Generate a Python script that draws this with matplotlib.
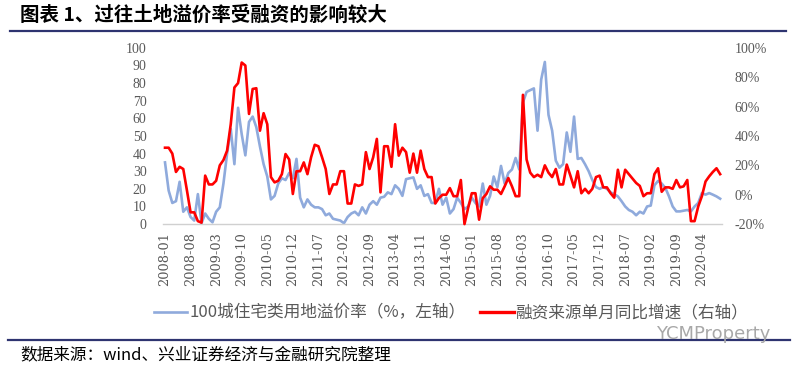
import matplotlib
matplotlib.use('Agg')
import matplotlib.pyplot as plt
from matplotlib.lines import Line2D

plt.rcParams['font.family'] = ['Noto Sans CJK SC', 'DejaVu Sans']

# monthly data, 2008-01 .. 2020-09
start_year = 2008
premium = [35, 19, 12, 13, 24, 7, 9.5, 4, 2, 17, 0.5, 6, 3, 1, 7, 9.5, 23, 40, 54, 34,
           66, 51, 39, 58, 61, 55, 44, 34, 27, 14, 16, 23, 26, 25, 29, 26, 37, 15, 9.5, 14,
           11, 9.5, 9.5, 8.5, 5, 6, 3, 2.5, 2, 0.5, 4, 6, 7, 5, 9.5, 6, 11, 13, 11, 15,
           15.5, 18, 17, 22, 20, 16, 25.5, 26, 26.5, 20, 22, 16, 17, 12, 12, 20, 11, 15, 6, 8.5,
           15, 12, 8.5, 10, 15, 12, 10, 23, 11, 16, 27, 21, 33, 23, 29, 31, 37.5, 31, 69, 75,
           76, 77, 53, 82, 92, 62, 53, 36, 32, 34, 52, 41, 61, 37, 37.5, 34, 30, 25, 21, 20,
           21, 20, 18, 17, 15.7, 13, 10, 8, 7, 5, 7, 6, 10, 10.5, 22, 24.5, 23, 20.5, 15.7, 10,
           7.2, 7.2, 7.6, 8, 7.2, 10, 12, 17.6, 16.7, 17.6, 16.7, 15.7, 14.4]
financing = [32, 32, 28, 15.5, 19, 17.5, 3, -12, -12, -18, -19, 13, 7, 7, 9.5, 20, 23.6, 30, 48, 73,
             76, 90, 88, 55, 72, 72.5, 43.6, 55.5, 48, 12, 8.4, 9.5, 14, 27.7, 24, 0.5, 16, 16, 22, 14,
             25.5, 34, 33, 25.5, 17.5, 0.5, 7, 7, 16, 16, -6, -6, 7, 6, 7, 29, 17.5, 25.5, 38, 1.6,
             33, 33, 19, 48, 26.6, 32, 29, 15, 28, 15, 30, 17.5, 12, 12, -6, -2.3, 0, 0, 4.5, -1,
             -1, 10, -20, -9, 1, 1, -17, -2.3, 0.5, 5.7, 3.4, 3.4, 0.5, 5.7, 11.4, 5.7, -1, -1, 68, 24,
             15, 12, 13.6, 12, 20, 15, 12, 17.5, 7, 7, 20.5, 13, 5, 16, 1, 4, 1, 4, 12, 13,
             5, 5, 1, -2, 17, 5, 17, 14, 11, 8, 6, -1, 1, 1, 14, 18, 2, 5, 5, 4,
             10, 5, 5.7, 10, -18, -18, -8, -1, 9, 12.5, 15.5, 18, 14]

labels = ['%d-%02d' % (start_year + i // 12, i % 12 + 1) for i in range(len(premium))]
x = list(range(len(premium)))

blue = '#8FAADC'
red = '#FF0000'
grey = '#595959'
navy = '#2E3470'

fig = plt.figure(figsize=(7.96, 3.71), dpi=100)
ax = fig.add_axes([0.205, 0.396, 0.702, 0.475])
ax2 = ax.twinx()

ax.plot(x, premium, color=blue, lw=1.9, clip_on=False)
ax2.plot(x, financing, color=red, lw=1.9, clip_on=False)

ax.set_xlim(-0.5, len(x) - 0.5)
ax.set_ylim(0, 100)
ax2.set_ylim(-20, 100)

ax.set_yticks(range(0, 101, 10))
ax.set_yticklabels([str(v) for v in range(0, 101, 10)], family='Liberation Serif', fontsize=10, color=grey)
ax2.set_yticks(range(-20, 101, 20))
ax2.set_yticklabels(['%d%%' % v for v in range(-20, 101, 20)], family='Liberation Serif', fontsize=10, color=grey)
ax.set_xticks(x[::7])
ax.set_xticklabels(labels[::7], rotation=90, family='DejaVu Serif', fontsize=9.3, color=grey)

ax.tick_params(axis='y', length=0, pad=12)
ax2.tick_params(axis='y', length=0, pad=9)
ax.tick_params(axis='x', length=0, pad=6)

for a in (ax, ax2):
    for s in ['top', 'left', 'right', 'bottom']:
        a.spines[s].set_visible(False)
ax.spines['bottom'].set_visible(True)
ax.spines['bottom'].set_color('#D0D0D0')
ax.spines['bottom'].set_linewidth(1)

# title and rules
fig.text(20 / 796, 1 - 15 / 371, '图表 1、过往土地溢价率受融资的影响较大', fontsize=14,
         fontweight='bold', va='center', ha='left', color='black')
fig.add_artist(Line2D([10 / 796, 786 / 796], [1 - 31 / 371] * 2, color=navy, lw=1.6))
fig.add_artist(Line2D([8 / 796, 790 / 796], [1 - 340 / 371] * 2, color=navy, lw=1.6))
fig.text(20 / 796, 1 - 355 / 371, '数据来源：wind、兴业证券经济与金融研究院整理', fontsize=12,
         va='center', ha='left', color='black')
fig.text(770 / 796, 1 - 334 / 371, 'YCMProperty', fontsize=13, va='center', ha='right',
         color='#A8A8A8', family='DejaVu Sans')

handles = [Line2D([], [], color=blue, lw=1.9), Line2D([], [], color=red, lw=2.4)]
fig.legend(handles, ['100城住宅类用地溢价率（%，左轴）', '融资来源单月同比增速（右轴）'],
           loc='center', bbox_to_anchor=(451 / 796, 1 - 313 / 371), ncol=2, frameon=False,
           fontsize=12, handlelength=2.0, handletextpad=0.1, columnspacing=0.9,
           labelcolor=grey)

fig.savefig('out.png', dpi=100)
